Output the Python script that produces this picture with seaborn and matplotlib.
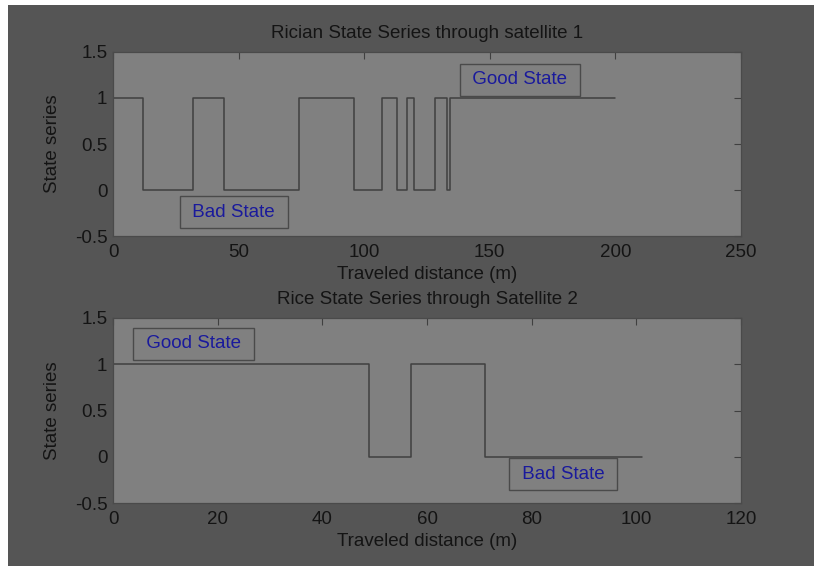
import matplotlib
matplotlib.use("Agg")
import matplotlib.pyplot as plt
import matplotlib.ticker as mticker
from matplotlib.patches import Rectangle
import pandas as pd
import seaborn as sns

# State series data (step changes along the traveled distance)
sat1_distance = [0, 12, 32, 44, 74, 96, 107, 113, 117, 120, 128, 133, 134, 200]
sat1_state = [1, 0, 1, 0, 1, 0, 1, 0, 1, 0, 1, 0, 1, 1]
sat2_distance = [0, 49, 57, 71, 101]
sat2_state = [1, 0, 1, 0, 0]

titles = ["Rician State Series through satellite 1", "Rice State Series through Satellite 2"]
x_ticks_1 = [0, 50, 100, 150, 200, 250]
x_ticks_2 = [0, 20, 40, 60, 80, 100, 120]
y_ticks = [-0.5, 0, 0.5, 1, 1.5]

sns.set_style("white")
plt.rcParams["font.family"] = ["Liberation Sans", "DejaVu Sans"]

fig_bg = "#555555"
ax_bg = "#808080"
line_col = "#404040"
text_col = "#141414"
label_col = "#1a1a9c"
fs = 13.5

fig = plt.figure(figsize=(8.14, 5.66), dpi=100, facecolor="white")
# dark panel with white strip at top and left
fig.patches.append(Rectangle((8 / 814, 0), 1, 1 - 5 / 566, transform=fig.transFigure,
                             facecolor=fig_bg, edgecolor="none", zorder=-10))

ax1 = fig.add_axes([113 / 814, 1 - 236 / 566, 628 / 814, 184 / 566])
ax2 = fig.add_axes([113 / 814, 1 - 503 / 566, 628 / 814, 185 / 566])

df1 = pd.DataFrame({"distance": sat1_distance, "state": sat1_state})
df2 = pd.DataFrame({"distance": sat2_distance, "state": sat2_state})

panels = [
    (ax1, df1, titles[0], x_ticks_1, (162, 1.2), (48, -0.24)),
    (ax2, df2, titles[1], x_ticks_2, (15.4, 1.22), (86, -0.19)),
]

for ax, df, title, xt, good_pos, bad_pos in panels:
    ax.set_facecolor(ax_bg)
    sns.lineplot(x="distance", y="state", data=df, ax=ax, estimator=None,
                 drawstyle="steps-post", color=line_col, linewidth=1.1)
    ax.set_xlim(xt[0], xt[-1])
    ax.set_ylim(-0.5, 1.5)
    ax.set_xticks(xt)
    ax.set_yticks(y_ticks)
    ax.xaxis.set_major_formatter(mticker.FormatStrFormatter("%g"))
    ax.yaxis.set_major_formatter(mticker.FormatStrFormatter("%g"))
    ax.tick_params(direction="in", length=5, width=0.8, colors=line_col,
                   labelcolor=text_col, labelsize=fs, top=True, right=True, pad=4)
    ax.tick_params(axis="x", pad=6)
    for s in ax.spines.values():
        s.set_color("#4a4a4a")
        s.set_linewidth(0.9)
    ax.set_title(title, fontsize=fs, color=text_col, pad=10)
    ax.set_xlabel("Traveled distance (m)", fontsize=fs, color=text_col, labelpad=3)
    ax.set_ylabel("State series", fontsize=fs, color=text_col, labelpad=10)

    box = dict(boxstyle="square,pad=0.4", facecolor="none", edgecolor="#4a4a4a", linewidth=1)
    ax.text(good_pos[0], good_pos[1], " Good State ", color=label_col, fontsize=fs,
            ha="center", va="center", bbox=box)
    ax.text(bad_pos[0], bad_pos[1], " Bad State ", color=label_col, fontsize=fs,
            ha="center", va="center", bbox=box)

fig.savefig("out.png", dpi=100, facecolor=fig.get_facecolor())
